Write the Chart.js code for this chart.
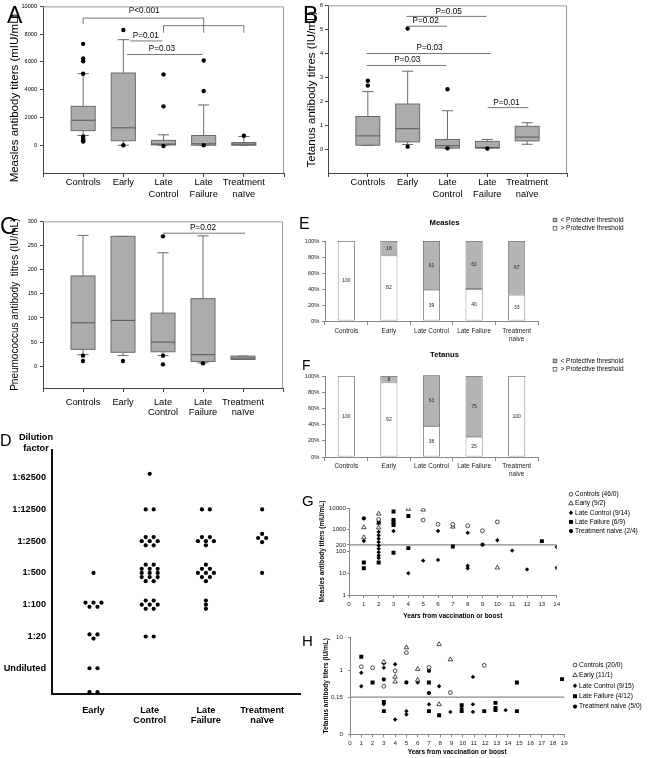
<!DOCTYPE html>
<html>
<head>
<meta charset="utf-8">
<script src="https://cdn.jsdelivr.net/npm/chart.js@4.4.1/dist/chart.umd.min.js"></script>
<style>
  html, body { margin: 0; padding: 0; background: #fff; }
  body { width: 650px; height: 758px; position: relative; overflow: hidden; font-family: "Liberation Sans", Arial, sans-serif; }
  canvas { position: absolute; }
  .txt { position: absolute; line-height: 1; white-space: nowrap; color: #000; }
  .vt { transform: translate(-50%, -50%) rotate(-90deg); }
</style>
</head>
<body>
<canvas id="chA" width="300" height="215" style="left:0;top:0"></canvas>
<canvas id="chB" width="300" height="215" style="left:300px;top:0"></canvas>
<canvas id="chC" width="300" height="210" style="left:0;top:215px"></canvas>
<canvas id="chD" width="310" height="305" style="left:0;top:425px"></canvas>
<canvas id="chE" width="350" height="130" style="left:300px;top:215px"></canvas>
<canvas id="chF" width="350" height="135" style="left:300px;top:345px"></canvas>
<canvas id="chG" width="350" height="145" style="left:300px;top:480px"></canvas>
<canvas id="chH" width="350" height="133" style="left:300px;top:625px"></canvas>

<div class="txt" style="left:7px;top:4px;font-size:23px">A</div>
<div class="txt" style="left:303px;top:4px;font-size:23px">B</div>
<div class="txt" style="left:0;top:215px;font-size:23px">C</div>
<div class="txt" style="left:0;top:433px;font-size:16px">D</div>
<div class="txt" style="left:299px;top:216px;font-size:16px">E</div>
<div class="txt" style="left:302px;top:358px;font-size:14px">F</div>
<div class="txt" style="left:302px;top:493px;font-size:15px">G</div>
<div class="txt" style="left:302px;top:633px;font-size:15px">H</div>
<div class="txt vt" style="left:15px;top:98px;font-size:11.5px">Measles antibody titers (mIU/mL)</div>
<div class="txt" style="left:10px;top:432px;width:52px;text-align:center;font-weight:bold;font-size:9.2px;line-height:11.3px">Dilution<br>factor</div>

<script>
const FONT = '"Liberation Sans", Arial, sans-serif';
Chart.defaults.font.family = FONT;
Chart.defaults.color = '#000';
Chart.defaults.animation = false;
Chart.defaults.events = [];
Chart.defaults.plugins.legend.display = false;
Chart.defaults.plugins.tooltip.enabled = false;

// ---------- data ----------
const groupTicks = ['Controls', 'Early', ['Late', 'Control'], ['Late', 'Failure'], ['Treatment', 'naïve']];
const edgeTicks = [-1, 0, 1, 2, 3, 4, 5];

// A - measles, [lower whisker, q1, median, q3, upper whisker]
const measlesStats = [[700, 1050, 1800, 2800, 5150], [0, 320, 1250, 5200, 7600], [0, 20, 80, 350, 750], [0, 0, 100, 700, 2900], [0, 0, 80, 190, 630]];
const measlesOutliers = [[7300, 6250, 6050, 5150, 630, 480, 360, 260], [8300, 0], [5100, 2800, -60], [6100, 3900, 0], [680]];
const measlesTicks = [0, 2000, 4000, 6000, 8000, 10000];
const measlesPLines = [[0, 9155, 3, 9155], [0, 9155, 0, 8750], [3, 9155, 3, 8100], [2, 8610, 4, 8610], [2, 8610, 2, 8100], [4, 8610, 4, 8100], [1.17, 7510, 1.97, 7510], [1.09, 6530, 2.97, 6530]];
const measlesPText = [[1.52, 9680, 'P<0.001'], [1.56, 7865, 'P=0.01'], [1.96, 6925, 'P=0.03']];

// B - tetanus
const tetanusStats = [[0.15, 0.16, 0.55, 1.36, 2.4], [0.19, 0.3, 0.85, 1.88, 3.25], [0.04, 0.04, 0.14, 0.4, 1.6], [0.04, 0.04, 0.06, 0.32, 0.4], [0.2, 0.34, 0.5, 0.95, 1.1]];
const tetanusOutliers = [[2.85, 2.65], [5.03, 0.1], [2.5, 0.03], [0.02], []];
const tetanusTicks = [0, 1, 2, 3, 4, 5, 6];
const tetanusPLines = [[0.97, 5.54, 2.98, 5.54], [0.97, 5.13, 1.99, 5.13], [-0.03, 3.99, 3.09, 3.99], [-0.03, 3.49, 1.97, 3.49], [3.01, 1.73, 4.03, 1.73]];
const tetanusPText = [[2.03, 5.75, 'P=0.05'], [1.45, 5.35, 'P=0.02'], [1.55, 4.25, 'P=0.03'], [0.99, 3.72, 'P=0.03'], [3.48, 1.92, 'P=0.01']];

// C - pneumococcus
const pneumoStats = [[24, 35, 90, 187, 271], [22, 29, 95, 269, 269], [22, 30, 50, 110, 235], [7, 10, 24, 140, 270], [14, 14, 17, 21, 21]];
const pneumoOutliers = [[22, 11], [11], [269, 22, 4], [6], []];
const pneumoTicks = [0, 50, 100, 150, 200, 250, 300];
const pneumoPLines = [[2, 275.5, 4.05, 275.5]];
const pneumoPText = [[3, 287.8, 'P=0.02']];

// D - dilution factor, dots per step given row by row (step -0.75 = below undiluted)
const dilutionTicks = ['Undiluted', '1:20', '1:100', '1:500', '1:2500', '1:12500', '1:62500'];
const dilutionGroups = [['Early'], ['Late', 'Control'], ['Late', 'Failure'], ['Treatment', 'naïve']];
const dEarly = { '-0.75': [2], '0': [2], '1': [2, 1], '2': [3, 2], '3': [1] };
const dLateControl = { '1': [2], '2': [2, 3, 2], '3': [2, 3, 3, 3, 2], '4': [2, 3, 2], '5': [2], '6.12': [1] };
const dLateFailure = { '2': [1, 1, 1], '3': [1, 2, 3, 2, 1], '4': [2, 3, 1], '5': [2] };
const dTreatment = { '3': [1], '4.1': [1, 2, 1], '5': [1] };

// E, F - % above / below protective threshold
const stackCats = ['Controls', 'Early', 'Late Control', 'Late Failure', ['Treatment', 'naive']];
const percentTicks = [0, 20, 40, 60, 80, 100];
const measlesAbove = [100, 82, 39, 40, 33];
const measlesBelow = [0, 18, 61, 60, 67];
const tetanusAbove = [100, 92, 38, 25, 100];
const tetanusBelow = [0, 8, 63, 75, 0];

// G - measles titers vs years
const gNames = ['Controls (46/0)', 'Early (9/2)', 'Late Control (9/14)', 'Late Failure (6/9)', 'Treatment naive (2/4)'];
const gYearTicks = [0, 1, 2, 3, 4, 5, 6, 7, 8, 9, 10, 11, 12, 13, 14];
const gTiterTicks = [1, 10, 100, 200, 1000, 10000];
const gControls = [[2, 3000], [5, 2800], [6, 1780], [7, 1780], [8, 1530], [9, 900], [10, 2300]];
const gEarly = [[1, 1290], [1, 440], [2, 5400], [2, 1250], [4, 9000], [5, 8300], [7, 1370], [10, 18]];
const gLateControl = [[1, 305], [2, 800], [2, 560], [2, 390], [2, 270], [2, 190], [2, 133], [2, 93], [2, 65], [2, 50], [3, 870], [4, 10], [5, 38], [6, 870], [6, 41], [8, 720], [8, 22], [8, 17], [10, 330], [11, 110], [12, 15], [14, 160], [14, 18]];
const gLateFailure = [[1, 31], [1, 17], [2, 2100], [2, 31], [3, 6900], [3, 2850], [3, 2200], [3, 1650], [3, 87], [4, 4300], [4, 143], [7, 170], [13, 300]];
const gTreatment = [[1, 3300], [9, 205]];

// H - tetanus titers vs years
const hNames = ['Controls (20/0)', 'Early (11/1)', 'Late Control (9/15)', 'Late Failure (4/12)', 'Treatment naive (5/0)'];
const hYearTicks = [0, 1, 2, 3, 4, 5, 6, 7, 8, 9, 10, 11, 12, 13, 14, 15, 16, 17, 18, 19];
const hTiterTicks = [0.011, 0.15, 1, 10];
const hControls = [[1, 1.27], [2, 1.18], [3, 0.32], [4, 0.95], [5, 3.4], [7, 1.2], [8.9, 0.207], [11.9, 1.4]];
const hEarly = [[3, 1.75], [4, 0.62], [4, 0.44], [5, 4.9], [6, 1.07], [6, 0.5], [7.9, 6.1], [7.9, 0.09], [8.9, 2.1]];
const hLateControl = [[1, 0.83], [1, 0.32], [3, 1.6], [3, 1.18], [3, 0.09], [4, 1.5], [4, 0.031], [5, 0.056], [5, 0.044], [6, 0.42], [7, 0.09], [7.9, 0.32], [8.9, 0.053], [9.9, 0.067], [10.9, 0.62], [10.9, 0.09], [10.9, 0.053], [13.8, 0.06]];
const hLateFailure = [[1, 2.56], [2, 0.42], [3, 0.107], [3, 0.056], [7, 0.42], [7, 0.056], [7.9, 0.042], [9.9, 0.085], [9.9, 0.056], [11.9, 0.056], [12.9, 0.1], [12.9, 0.07], [12.9, 0.06], [14.8, 0.42], [14.8, 0.056], [18.8, 0.53]];
const hTreatment = [[3, 0.52], [5, 0.42], [7, 0.95], [7, 0.2]];

// ---------- plugins ----------
const boxes = {
  id: 'boxes',
  beforeDatasetsDraw(chart, args, o) {
    if (!o.stats) return;
    const { ctx, scales: { x, y } } = chart;
    const Y = v => y.getPixelForValue(v);
    ctx.save();
    ctx.lineWidth = 1;
    o.stats.forEach((s, i) => {
      const [lo, q1, med, q3, hi] = s;
      const xc = x.getPixelForValue(i);
      const l = x.getPixelForValue(i - 0.3), r = x.getPixelForValue(i + 0.3);
      const cl = x.getPixelForValue(i - 0.14), cr = x.getPixelForValue(i + 0.14);
      ctx.strokeStyle = '#6a6a6a';
      ctx.beginPath();
      ctx.moveTo(xc, Y(q3)); ctx.lineTo(xc, Y(hi));
      ctx.moveTo(cl, Y(hi)); ctx.lineTo(cr, Y(hi));
      ctx.moveTo(xc, Y(q1)); ctx.lineTo(xc, Y(lo));
      ctx.moveTo(cl, Y(lo)); ctx.lineTo(cr, Y(lo));
      ctx.stroke();
      ctx.fillStyle = '#acacac';
      ctx.fillRect(l, Y(q3), r - l, Y(q1) - Y(q3));
      ctx.strokeRect(l, Y(q3), r - l, Y(q1) - Y(q3));
      ctx.strokeStyle = '#555';
      ctx.beginPath(); ctx.moveTo(l, Y(med)); ctx.lineTo(r, Y(med)); ctx.stroke();
    });
    ctx.restore();
  }
};

const notes = {
  id: 'notes',
  beforeDatasetsDraw(chart, args, o) {
    if (!o.lines) return;
    const { ctx, scales: { x, y } } = chart;
    ctx.save();
    ctx.strokeStyle = o.color || '#777';
    ctx.lineWidth = o.width || 1;
    ctx.beginPath();
    o.lines.forEach(([x1, y1, x2, y2]) => {
      ctx.moveTo(x.getPixelForValue(x1), y.getPixelForValue(y1));
      ctx.lineTo(x.getPixelForValue(x2), y.getPixelForValue(y2));
    });
    ctx.stroke();
    ctx.fillStyle = '#000';
    ctx.font = (o.size || 8) + 'px ' + FONT;
    ctx.textAlign = 'center';
    ctx.textBaseline = 'middle';
    (o.texts || []).forEach(([tx, ty, t]) => ctx.fillText(t, x.getPixelForValue(tx), y.getPixelForValue(ty)));
    ctx.restore();
  }
};

const frame = {
  id: 'frame',
  afterDraw(chart, args, o) {
    if (!o.color) return;
    const { ctx, chartArea: c } = chart;
    ctx.save();
    ctx.strokeStyle = o.color;
    ctx.lineWidth = 1;
    ctx.beginPath();
    ctx.moveTo(c.left, c.top + 0.5);
    ctx.lineTo(c.right - 0.5, c.top + 0.5);
    ctx.lineTo(c.right - 0.5, c.bottom);
    ctx.stroke();
    ctx.restore();
  }
};

const barText = {
  id: 'barText',
  afterDatasetsDraw(chart, args, o) {
    if (!o.size) return;
    const ctx = chart.ctx;
    ctx.save();
    ctx.fillStyle = '#222';
    ctx.font = o.size + 'px ' + FONT;
    ctx.textAlign = 'center';
    ctx.textBaseline = 'middle';
    chart.data.datasets.forEach((ds, di) => {
      chart.getDatasetMeta(di).data.forEach((el, i) => {
        const v = ds.data[i];
        if (v) ctx.fillText(String(v), el.x, (el.y + Math.min(el.base, chart.chartArea.bottom)) / 2);
      });
    });
    ctx.restore();
  }
};

const key = {
  id: 'key',
  afterDraw(chart, args, o) {
    if (!o.x) return;
    const ctx = chart.ctx;
    ctx.save();
    ctx.textBaseline = 'middle';
    if (o.title) {
      ctx.fillStyle = '#000';
      ctx.font = 'bold ' + o.titleSize + 'px ' + FONT;
      ctx.textAlign = 'center';
      ctx.fillText(o.title, o.titleX, o.titleY);
    }
    ctx.font = o.size + 'px ' + FONT;
    ctx.textAlign = 'left';
    const sets = o.reverse ? chart.data.datasets.slice().reverse() : chart.data.datasets;
    sets.forEach((ds, i) => {
      const yy = o.y + i * o.gap;
      ctx.fillStyle = ds.backgroundColor;
      ctx.strokeStyle = ds.borderColor || '#000';
      ctx.lineWidth = ds.borderWidth || 0.8;
      if (o.square) {
        ctx.fillRect(o.x - 1.8, yy - 1.8, 3.6, 3.6);
        ctx.strokeRect(o.x - 1.8, yy - 1.8, 3.6, 3.6);
      } else {
        Chart.helpers.drawPoint(ctx, { pointStyle: ds.pointStyle, radius: ds.pointRadius, borderWidth: ds.borderWidth || 0, rotation: 0 }, o.x, yy);
      }
      ctx.fillStyle = '#000';
      ctx.fillText(ds.label, o.x + o.dx, yy);
    });
    ctx.restore();
  }
};

Chart.register(boxes, notes, frame, barText, key);

// ---------- A, B, C box plots ----------
function boxChart(id, stats, outliers, yMin, yMax, yTicks, title, pLines, pText, g) {
  const pts = [];
  outliers.forEach((arr, i) => arr.forEach(v => pts.push({ x: i, y: v })));
  return new Chart(document.getElementById(id), {
    type: 'scatter',
    data: { datasets: [{ data: pts, pointRadius: 2.2, backgroundColor: '#000', borderWidth: 0 }] },
    options: {
      responsive: false,
      layout: { padding: { top: g.top, right: g.right, left: 0, bottom: 0 } },
      scales: {
        x: {
          min: -1, max: 5, bounds: 'data',
          afterBuildTicks: s => { s.ticks = edgeTicks.map(v => ({ value: v })); },
          afterFit: s => { s.height = g.xh; },
          ticks: { autoSkip: false, maxRotation: 0, padding: g.xpad, font: { size: 9.3, lineHeight: g.xlh }, callback: v => groupTicks[v] || '' },
          grid: { drawOnChartArea: false, tickLength: 4, color: '#444' },
          border: { color: '#444' }
        },
        y: {
          min: yMin, max: yMax, bounds: 'data',
          afterBuildTicks: s => { s.ticks = yTicks.map(v => ({ value: v })); },
          afterFit: s => { s.width = g.yw; },
          ticks: { padding: g.ypad, font: { size: 5.6 }, callback: v => String(v) },
          grid: { drawOnChartArea: false, tickLength: 3, color: '#444' },
          border: { color: '#444' },
          title: { display: !!title, text: title, font: { size: g.ts }, padding: { top: g.tpad, bottom: 0 } }
        }
      },
      plugins: {
        boxes: { stats: stats },
        notes: { lines: pLines, texts: pText, size: 8.2, color: '#777' },
        frame: { color: '#999' }
      }
    }
  });
}

// A's axis title is the rotated div above (it sits lower than the plot centre)
boxChart('chA', measlesStats, measlesOutliers, -2000, 10000, measlesTicks, '', measlesPLines, measlesPText,
  { top: 3, right: 16, xh: 42, yw: 43, xpad: 0, xlh: 1.25, ypad: 3, ts: 11.5, tpad: 8.1 });
boxChart('chB', tetanusStats, tetanusOutliers, -1, 6, tetanusTicks, 'Tetanus antibody titres (IU/mL)', tetanusPLines, tetanusPText,
  { top: 3, right: 33, xh: 42, yw: 28, xpad: 0, xlh: 1.25, ypad: 2, ts: 11.5, tpad: 5.1 });
boxChart('chC', pneumoStats, pneumoOutliers, -45, 300, pneumoTicks, 'Pneumococcus antibody  titres (IU/mL)', pneumoPLines, pneumoPText,
  { top: 4, right: 17, xh: 37, yw: 43, xpad: 4.8, xlh: 1.12, ypad: 3, ts: 10, tpad: 9 });

// ---------- D dot plot ----------
const D_ROW = 0.13, D_COL = 0.142;
function cluster(gx, cells) {
  const pts = [];
  Object.keys(cells).forEach(k => {
    const rows = cells[k], lvl = Number(k);
    rows.forEach((n, r) => {
      const dy = ((rows.length - 1) / 2 - r) * D_ROW;
      for (let j = 0; j < n; j++) pts.push({ x: gx + (j - (n - 1) / 2) * D_COL, y: lvl + dy });
    });
  });
  return pts;
}
new Chart(document.getElementById('chD'), {
  type: 'scatter',
  data: { datasets: [{ data: [...cluster(1, dEarly), ...cluster(2, dLateControl), ...cluster(3, dLateFailure), ...cluster(4, dTreatment)], pointRadius: 2.1, backgroundColor: '#000', borderWidth: 0 }] },
  options: {
    responsive: false,
    layout: { padding: { top: 25, right: 10, left: 0, bottom: 0 } },
    scales: {
      x: {
        min: 0.262, max: 4.674, bounds: 'data',
        afterBuildTicks: s => { s.ticks = [1, 2, 3, 4].map(v => ({ value: v })); },
        afterFit: s => { s.height = 36; },
        ticks: { autoSkip: false, maxRotation: 0, padding: 10.6, font: { size: 9.2, weight: 'bold', lineHeight: 1.17 }, callback: v => dilutionGroups[v - 1] },
        grid: { display: false, drawTicks: false },
        border: { color: '#111', width: 2 }
      },
      y: {
        min: -0.81, max: 6.87, bounds: 'data',
        afterBuildTicks: s => { s.ticks = dilutionTicks.map((t, i) => ({ value: i })); },
        afterFit: s => { s.width = 52; },
        ticks: { padding: 6, font: { size: 9.2, weight: 'bold' }, callback: v => dilutionTicks[v] },
        grid: { display: false, drawTicks: false },
        border: { color: '#111', width: 2 }
      }
    }
  }
});

// ---------- E, F stacked percentages ----------
function stackChart(id, title, above, below, g) {
  return new Chart(document.getElementById(id), {
    type: 'bar',
    data: {
      labels: stackCats,
      datasets: [
        { label: '> Protective threshold', data: above, backgroundColor: '#fff', borderColor: '#555', borderWidth: 0.8, borderSkipped: false, barPercentage: 0.4, categoryPercentage: 1 },
        { label: '< Protective threshold', data: below, backgroundColor: '#b4b4b4', borderColor: '#555', borderWidth: 0.8, borderSkipped: false, barPercentage: 0.4, categoryPercentage: 1, clip: false }
      ]
    },
    options: {
      responsive: false,
      layout: { padding: { top: g.top, right: 112, left: 0, bottom: 0 } },
      scales: {
        x: {
          stacked: true,
          afterFit: s => { s.height = g.xh; },
          ticks: { autoSkip: false, maxRotation: 0, padding: g.xpad, font: { size: 6.4, lineHeight: 1.25 }, color: '#222' },
          grid: { drawOnChartArea: false, tickLength: 4, color: '#888' },
          border: { color: '#888' }
        },
        y: {
          stacked: true, min: 0, max: 100, bounds: 'data',
          afterBuildTicks: s => { s.ticks = percentTicks.map(v => ({ value: v })); },
          afterFit: s => { s.width = 25; },
          ticks: { padding: 2.5, font: { size: 5.8 }, color: '#222', callback: v => v + '%' },
          grid: { drawOnChartArea: false, tickLength: 3, color: '#888' },
          border: { color: '#888' }
        }
      },
      plugins: {
        barText: { size: 5 },
        key: { x: 255, y: g.ky, gap: 8.3, size: 6.5, dx: 5.5, square: true, reverse: true, title: title, titleSize: 7.7, titleX: 144.5, titleY: g.ty }
      }
    }
  });
}
stackChart('chE', 'Measles', measlesAbove, measlesBelow, { top: 26, xh: 24, xpad: 2, ky: 5, ty: 8.3 });
stackChart('chF', 'Tetanus', tetanusAbove, tetanusBelow, { top: 31, xh: 23, xpad: 1.2, ky: 16, ty: 10 });

// ---------- G, H titers over time ----------
const seriesStyle = [
  { pointStyle: 'circle', pointRadius: 1.9, backgroundColor: '#fff', borderColor: '#000', borderWidth: 0.7 },
  { pointStyle: 'triangle', pointRadius: 2.6, backgroundColor: '#fff', borderColor: '#000', borderWidth: 0.7 },
  { pointStyle: 'rectRot', pointRadius: 2.2, backgroundColor: '#000', borderColor: '#000', borderWidth: 0 },
  { pointStyle: 'rect', pointRadius: 2.8, backgroundColor: '#000', borderColor: '#000', borderWidth: 0 },
  { pointStyle: 'circle', pointRadius: 2.1, backgroundColor: '#000', borderColor: '#000', borderWidth: 0 }
];
function timeChart(id, names, series, xTicks, yMin, yMax, yTicks, yLabel, yTitle, threshold, g) {
  return new Chart(document.getElementById(id), {
    type: 'scatter',
    data: { datasets: series.map((d, i) => Object.assign({ label: names[i], data: d }, seriesStyle[i])) },
    options: {
      responsive: false,
      layout: { padding: { top: g.top, right: g.right, left: 0, bottom: 0 } },
      scales: {
        x: {
          min: xTicks[0], max: xTicks[xTicks.length - 1], bounds: 'data',
          afterBuildTicks: s => { s.ticks = xTicks.map(v => ({ value: v })); },
          afterFit: s => { s.height = g.xh; },
          ticks: { autoSkip: false, maxRotation: 0, padding: 2.3, font: { size: 6.2 }, color: '#222' },
          grid: { drawOnChartArea: false, tickLength: 3, color: '#888' },
          border: { color: '#888' },
          title: { display: true, text: 'Years from vaccination or boost', font: { size: 6.5, weight: 'bold' }, padding: { top: 0, bottom: g.xtpad } }
        },
        y: {
          type: 'logarithmic', min: yMin, max: yMax, bounds: 'data',
          afterBuildTicks: s => { s.ticks = yTicks.map(v => ({ value: v })); },
          afterFit: s => { s.width = g.yw; },
          ticks: { padding: g.ypad, font: { size: 6.2 }, color: '#222', callback: yLabel },
          grid: { drawOnChartArea: false, tickLength: 2, color: '#888' },
          border: { color: '#888' },
          title: { display: true, text: yTitle, font: { size: 6.5, weight: 'bold' }, padding: { top: g.ytpad, bottom: 0 } }
        }
      },
      plugins: {
        notes: { lines: [[xTicks[0], threshold, xTicks[xTicks.length - 1], threshold]], color: '#8a8a8a', width: 1.3 },
        key: { x: g.kx, y: g.ky, gap: g.kgap, size: 6.6, dx: 4 }
      }
    }
  });
}
timeChart('chG', gNames, [gControls, gEarly, gLateControl, gLateFailure, gTreatment], gYearTicks, 1, 10000, gTiterTicks,
  v => String(v), 'Measles antibody titers (mIU/mL)', 200,
  { top: 28, right: 93.3, xh: 30, yw: 49, ypad: 1, xtpad: 5.1, ytpad: 18.4, kx: 271, ky: 14.3, kgap: 9.2 });
timeChart('chH', hNames, [hControls, hEarly, hLateControl, hLateFailure, hTreatment], hYearTicks, 0.011, 10, hTiterTicks,
  v => (v === 0.011 ? '0' : v === 0.15 ? '0,15' : String(v)), 'Tetanus antibody titers (IU/mL)', 0.15,
  { top: 12.3, right: 85.7, xh: 23.7, yw: 50, ypad: 5, xtpad: 1.4, ytpad: 22.5, kx: 275, ky: 40, kgap: 10.4 });
</script>
</body>
</html>
